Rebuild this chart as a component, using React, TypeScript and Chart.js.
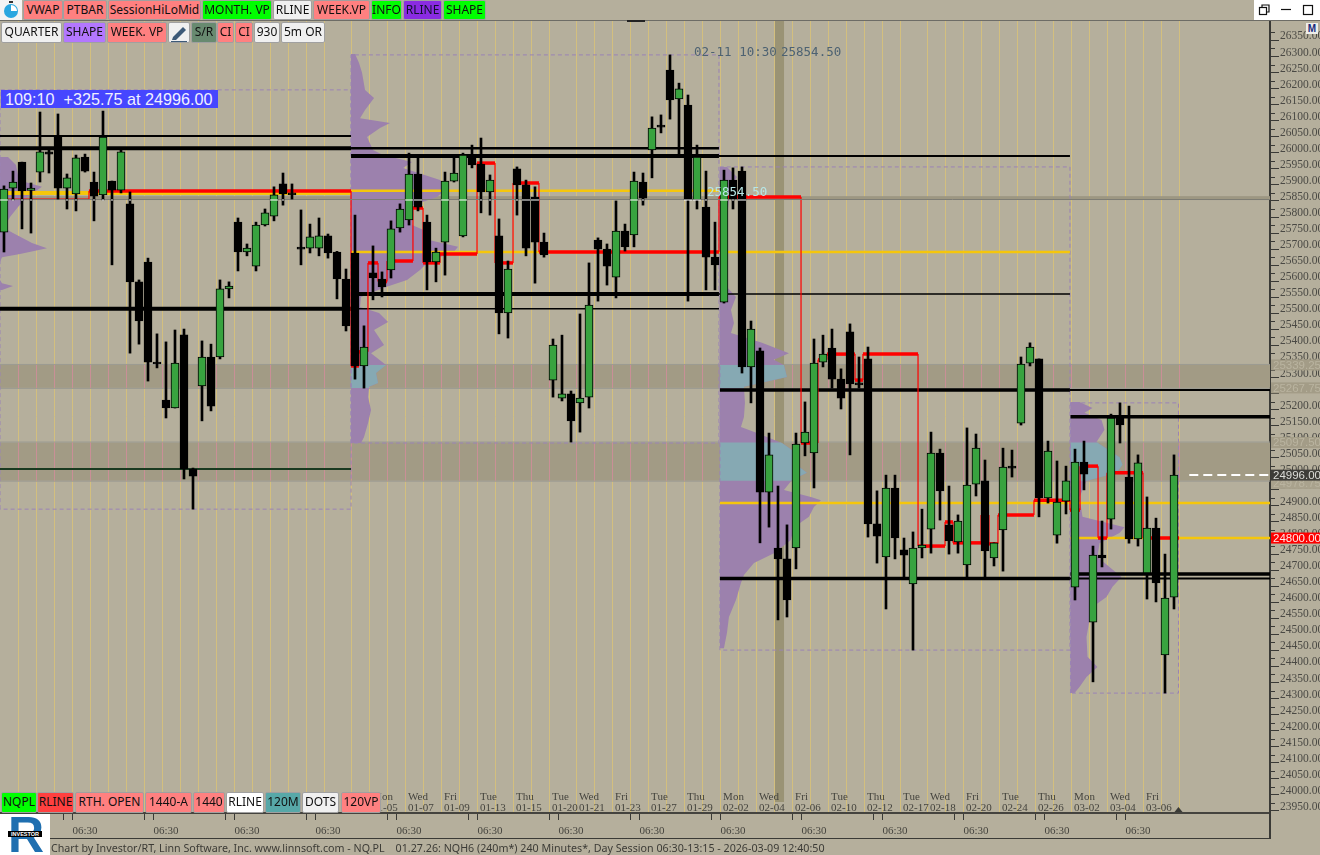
import React, { useEffect, useRef } from "react";
import { Chart, registerables } from "chart.js";

Chart.register(...registerables);

const opens = [25753,25890,25971,25883,25940,26003,26052,25890,25872,25987,25909,25869,25912,25884,25841,25598,25660,25346,25230,25205,25433,25015,25274,25364,25364,25576,25784,25691,25647,25775,25803,25903,25872,25703,25703,25703,25741,25691,25607,25688,25336,25626,25607,25635,25766,25791,25934,25784,25660,25722,25912,25741,25993,25965,25878,25741,25501,25950,25900,25862,25722,25292,25236,25249,25221,25239,25728,25700,25613,25756,25744,25909,26009,26084,26258,26168,26149,25853,25831,25675,25535,25915,25943,25333,25383,24943,24769,24735,24769,25096,25065,25348,25392,25295,25442,25280,25358,24844,24741,24956,24763,24657,24769,24828,25065,24841,24788,24716,24968,24978,24738,24825,25021,25158,25345,25358,24925,24809,24915,24647,25037,24538,24747,24859,25177,24990,24797,24691,24831,24436,24616];
const closes = [25887,25909,25881,25890,26003,25996,25890,25922,25984,25943,25865,26049,25884,26003,25598,25476,25348,25342,25205,25345,25015,24993,25364,25211,25576,25585,25691,25703,25775,25813,25869,25872,25869,25700,25738,25741,25688,25607,25461,25336,25395,25610,25582,25763,25825,25934,25831,25660,25691,25912,25937,25993,25962,25878,25915,25501,25638,25900,25703,25722,25682,25401,25249,25165,25236,25526,25700,25647,25756,25707,25912,25859,26077,26080,26165,26199,25853,25987,25675,25651,25915,25856,25333,25451,24943,25059,24735,24607,25093,25130,25345,25373,25295,25236,25280,25277,24844,24806,24956,24800,24747,24769,24778,25065,24947,24791,24853,24965,25080,24760,24785,25021,25018,25342,25395,24925,25071,24912,24978,25037,24999,24747,24738,25174,25152,24797,25034,24831,24660,24613,24996];
const highs = [25897,25943,25971,25906,26127,26009,26121,25934,25993,25996,25940,26130,25912,26009,25878,25604,25672,25436,25411,25448,25451,25018,25414,25404,25604,25598,25797,25716,25784,25825,25894,25937,25903,25822,25778,25797,25747,25693,25638,25806,25461,25710,25629,25788,25841,25999,25987,25806,25703,25940,25987,25999,26024,26046,25931,25794,25663,25956,25915,25894,25750,25420,25432,25258,25498,25657,25735,25716,25850,25778,25940,25937,26112,26118,26305,26217,26180,26024,25943,25784,25946,25953,25956,25476,25392,25127,24962,24841,25127,25224,25420,25432,25451,25327,25467,25364,25395,24947,24996,24996,24800,24819,24890,25130,25077,24962,24872,25143,25124,25043,24785,25080,25074,25364,25408,25358,25102,25040,25024,25077,25102,24775,24853,25186,25221,25211,25059,24928,24862,24750,25059];
const lows = [25691,25853,25763,25750,25909,25937,25856,25825,25819,25940,25788,25853,25651,25875,25376,25404,25289,25330,25174,25205,24984,24890,25165,25196,25358,25548,25632,25679,25632,25772,25788,25837,25856,25651,25688,25679,25672,25545,25445,25295,25267,25542,25551,25610,25753,25775,25819,25573,25598,25619,25909,25738,25953,25813,25806,25436,25423,25806,25679,25594,25675,25239,25227,25099,25130,25205,25538,25588,25548,25694,25707,25837,25922,26062,26105,25993,25538,25825,25573,25573,25532,25825,25314,25221,24785,24834,24545,24554,24704,25056,24956,25333,25267,25202,25059,25267,24803,24722,24579,24735,24676,24451,24738,24753,24856,24750,24753,24676,24931,24679,24713,24697,24990,25152,25336,24866,24909,24784,24875,24607,24950,24352,24710,24828,25096,24784,24775,24610,24601,24317,24579];

// session start positions, in bar units
const X_MIN = -0.444;
const X_MAX = 140.667;
const S1 = 38.56;
const S2 = 79.44;
const S2b = 79.55;
const S3 = 118.44;
const S3b = 118.5;
const S4 = 130.5;

const dayRuns = [[1.6, 35.6], [38.6, 60.6], [63.6, 99.6], [102.6, 130.6]];
const dateDays = ["Mon","Wed","Fri","Tue","Thu","Tue","Wed","Fri","Tue","Thu","Mon","Wed","Fri","Tue","Thu","Tue","Wed","Fri","Tue","Thu","Mon","Wed","Fri"];
const dateText = ["01-05","01-07","01-09","01-13","01-15","01-20","01-21","01-23","01-27","01-29","02-02","02-04","02-06","02-10","02-12","02-17","02-18","02-20","02-24","02-26","03-02","03-04","03-06"];
const dateAt = [40.9,44.9,48.9,52.9,56.9,60.9,63.9,67.9,71.9,75.9,79.9,83.9,87.9,91.9,95.9,99.9,102.9,106.9,110.9,114.9,118.9,122.9,126.9];

const profileAPrices = [25987,25962,25931,25909,25894,25862,25831,25800,25766,25750,25719,25703,25685,25675,25660,25604,25594,25585,25573];
const profileAVols = [8,16,18,25,42,27,18,10,4,13,32,47,20,2,0,0,2,13,2];
const profileBPrices = [26308,26280,26249,26196,26171,26133,26108,26093,26077,26049,26009,25993,25971,25953,25915,25890,25862,25837,25800,25775,25760,25728,25707,25688,25666,25635,25604,25579,25551,25520,25501,25473,25448,25401,25376,25339,25314,25283,25271,25239,25199,25158,25115,25096];
const profileBVols = [4,8,11,14,23,14,9,39,29,16,22,32,61,52,89,96,86,62,61,61,72,79,107,102,79,69,56,32,10,9,28,37,23,33,20,35,25,27,18,17,20,17,13,10];
const profileCPrices = [25956,25925,25884,25822,25697,25619,25582,25551,25510,25470,25439,25408,25376,25355,25339,25302,25271,25221,25177,25146,25127,25096,25074,25034,25003,24981,24950,24928,24918,24897,24866,24834,24794,24753,24722,24685,24660,24607,24554,24504,24457];
const profileCVols = [7,17,10,8,6,6,7,16,11,14,11,42,69,54,64,67,24,25,24,21,37,62,72,74,87,72,64,91,101,94,89,74,71,54,34,24,21,16,9,7,4];
const profileDPrices = [25224,25205,25190,25168,25137,25099,25052,25028,25003,24978,24928,24866,24834,24816,24784,24741,24679,24648,24616,24585,24545,24492,24430,24398,24367,24336,24317];
const profileDVols = [9,22,14,31,34,26,49,52,46,16,9,12,54,49,29,27,51,42,36,22,19,16,17,27,16,9,4];

const zoneHigh = [25339.25, 25097.5];
const zoneLow = [25267.75, 24978.75];

const blackLevels: number[][] = [
  [26052, X_MIN, S1, 2],
  [26014, X_MIN, S1, 4],
  [26014, S1, S2, 2.5],
  [25990, S1, S2, 4],
  [25990, S2, S3, 2],
  [25560, S1, S2, 4],
  [25560, S2, S3, 1.5],
  [25514, X_MIN, S1, 4],
  [25514, S1, S2, 1.5],
  [25261, S2b, S3, 3.5],
  [25261, S3, X_MAX, 2],
  [25178, S3b, X_MAX, 3.5],
  [24674, S2b, S3, 3.5],
  [24674, S3, X_MAX, 2],
  [24688, S3b, X_MAX, 3.5],
];
const darkGreenLevels: number[][] = [[25015, X_MIN, S1, 2]];
const yellowLevels: number[][] = [
  [25875, X_MIN, S1, 4],
  [25882, S1, S2, 2.5],
  [25691, S1, S3, 2.5],
  [24909, S2b, X_MAX, 2.5],
  [24800, S3b, X_MAX, 2.5],
];
const boxes: number[][] = [
  [X_MIN, S1, 26196, 24890],
  [S1, S2, 26305, 25096],
  [S2b, S3, 25956, 24451],
  [S3b, S4, 25221, 24317],
];

const rlineAt = [9.44,38.56,39.44,40.44,41.56,42.56,45.44,46.56,48.44,52.56,54.56,56.56,59.44,79.44,88.56,90.44,91.44,94.56,95.44,101.56,104.56,105.44,108.56,109.44,110.44,114.44,118.44,119.56,121.56,122.56,126.56];
const rlinePrice = [25881,25336,25380,25657,25599,25663,25828,25657,25685,25968,25657,25906,25691,25862,25096,25355,25373,25292,25373,24775,24850,24785,24872,24782,24872,24918,24887,25024,24800,25003,24800];
const rlineEnd = 130.56;
const rlineLowPrice = 25856;
const rlineLowEnd = 9.44;

const crosshairPrice = 25854.5;
const crosshairBandHigh = 25865;
const crosshairBandLow = 25855;
const crosshairBar = 86.17;
const lastPrice = 24996;

const axisTags = [
  { at: 25339.25, text: "25339.25", bg: "#a39c87", fg: "#bab4a0" },
  { at: 25267.75, text: "25267.75", bg: "#a39c87", fg: "#bab4a0" },
  { at: 25097.5, text: "25097.50", bg: "#a39c87", fg: "#bab4a0" },
  { at: 24970, text: "24978.75", bg: "#a9a28d", fg: "#bab4a0" },
  { at: 24996, text: "24996.00", bg: "#3d3c38", fg: "#dcdcd8" },
  { at: 24800, text: "24800.00", bg: "#ff0000", fg: "#ffe8e8" },
];

const row1 = [
  ["VWAP", 23, 40, "#ff8080"], ["PTBAR", 63, 44, "#ff8080"], ["SessionHiLoMid", 108, 93, "#ff8080"],
  ["MONTH. VP", 202, 70, "#00ff00"], ["RLINE", 273, 39, "#f0f0f0"], ["WEEK.VP", 313, 57, "#ff8080"],
  ["INFO", 371, 31, "#00ff00"], ["RLINE", 403, 39, "#8a2be2"], ["SHAPE", 443, 43, "#00ff00"],
];
const row2 = [
  ["QUARTER", 1, 61, "#f0f0f0"], ["SHAPE", 63, 43, "#b377ff"], ["WEEK. VP", 107, 60, "#ff8080"],
  ["S/R", 191, 26, "#688a70"], ["CI", 217, 17, "#ff8080"], ["CI", 235, 18, "#ff8080"],
  ["930", 254, 26, "#f0f0f0"], ["5m OR", 281, 44, "#f0f0f0"],
];
const row3 = [
  ["NQPL", 1, 36, "#00ff00"], ["RLINE", 37, 37, "#ff4040"], ["RTH. OPEN", 75, 69, "#ff8080"],
  ["1440-A", 145, 47, "#ff8080"], ["1440", 193, 32, "#ff8080"], ["RLINE", 226, 38, "#ffffff"],
  ["120M", 265, 36, "#57a8a8"], ["DOTS", 302, 37, "#f0f0f0"], ["120VP", 341, 40, "#ff8080"],
];

const BG = "#b5af9c";
const ZONE = "#a29b85";
const GRID = "#d3bf7e";
const PINK = "#c98f96";
const PURPLE = "#9c81ad";
const TEAL = "#86a9b3";
const VOL_UNIT = 1 / 9;
const numFont = "'Liberation Sans Narrow','Liberation Sans',sans-serif";

function polygon(prices: number[], vols: number[], base: number) {
  const pts = [{ x: base, y: prices[0] }];
  prices.forEach((p, i) => pts.push({ x: base + vols[i] * VOL_UNIT, y: p }));
  pts.push({ x: base, y: prices[prices.length - 1] });
  return pts;
}
function volAt(prices: number[], vols: number[], p: number) {
  for (let i = 0; i < prices.length - 1; i++) {
    if (prices[i] >= p && prices[i + 1] <= p) {
      const t = (prices[i] - p) / (prices[i] - prices[i + 1]);
      return vols[i] + (vols[i + 1] - vols[i]) * t;
    }
  }
  return 0;
}
function slice(prices: number[], vols: number[], base: number, hi: number, lo: number) {
  const pts = [{ x: base, y: hi }, { x: base + volAt(prices, vols, hi) * VOL_UNIT, y: hi }];
  prices.forEach((p, i) => { if (p < hi && p > lo) pts.push({ x: base + vols[i] * VOL_UNIT, y: p }); });
  pts.push({ x: base + volAt(prices, vols, lo) * VOL_UNIT, y: lo }, { x: base, y: lo });
  return pts;
}
function shape(data: any[], color: string, order: number) {
  return { type: "line", data, fill: "shape", backgroundColor: color, borderWidth: 0, borderColor: color, pointRadius: 0, tension: 0, order };
}
function level(l: number[], color: string, order: number) {
  return { type: "line", data: [{ x: l[1], y: l[0] }, { x: l[2], y: l[0] }], borderColor: color, borderWidth: l[3], pointRadius: 0, order };
}
function box(b: number[]) {
  const [x0, x1, hi, lo] = b;
  return {
    type: "line",
    data: [{ x: x0, y: lo }, { x: x0, y: hi }, { x: x1, y: hi }, { x: x1, y: lo }, { x: x0, y: lo }],
    borderColor: "#9a83b5", borderWidth: 1, borderDash: [4, 3], pointRadius: 0, order: 6,
  };
}

function dayGrid() {
  const out: { value: number }[] = [];
  dayRuns.forEach(([a, b]) => { for (let v = a; v <= b + 0.01; v += 2) out.push({ value: v }); });
  return out;
}

const decor = {
  id: "decor",
  beforeDatasetsDraw(chart: any) {
    const { ctx, chartArea: a, scales } = chart;
    const y = scales.y, x = scales.x;
    ctx.save();
    zoneHigh.forEach((hi, i) => {
      const t = y.getPixelForValue(hi), b = y.getPixelForValue(zoneLow[i]);
      ctx.fillStyle = ZONE;
      ctx.fillRect(a.left, t, a.right - a.left, b - t);
      ctx.fillStyle = "#9b9a92";
      ctx.fillRect(a.left, t - 1, a.right - a.left, 1);
      ctx.fillRect(a.left, b, a.right - a.left, 1);
      ctx.fillStyle = PINK;
      dayGrid().forEach((g) => {
        const px = Math.round(x.getPixelForValue(g.value));
        ctx.fillRect(px, t, 1, b - t);
      });
    });
    const ct = y.getPixelForValue(crosshairBandHigh), cb = y.getPixelForValue(crosshairBandLow);
    ctx.fillStyle = "#9d9782";
    ctx.fillRect(a.left, ct, a.right - a.left, cb - ct);
    const cx = x.getPixelForValue(crosshairBar);
    ctx.fillStyle = "#9a9375";
    ctx.fillRect(cx - 4.5, a.top, 9, 802 - a.top);
    ctx.restore();
  },
  afterDatasetsDraw(chart: any) {
    const { ctx, scales } = chart;
    const x = scales.x, y = scales.y;
    ctx.save();
    // the crosshair line inverts to white where it passes over a bar
    const cy = Math.round(y.getPixelForValue(crosshairPrice));
    ctx.fillStyle = "#ffffff";
    opens.forEach((o, i) => {
      if (lows[i] > crosshairPrice || highs[i] < crosshairPrice) return;
      const inBody = Math.min(o, closes[i]) <= crosshairPrice && Math.max(o, closes[i]) >= crosshairPrice;
      const w = inBody ? 8 : 2;
      ctx.fillRect(x.getPixelForValue(i) - w / 2, cy - 0.5, w, 1);
    });

    ctx.textBaseline = "middle";
    ctx.font = "12.5px 'DejaVu Sans Mono'";
    ctx.fillStyle = "#4d6272";
    ctx.textAlign = "left";
    ctx.fillText("02-11 10:30", 694, 53);
    ctx.fillText("25854.50", 781, 53);
    ctx.fillStyle = "#b7e6e6";
    ctx.fillText("25854.50", 707, 193);

    ctx.font = "11px 'Liberation Sans Narrow'";
    ctx.fillStyle = "#45443e";
    dateAt.forEach((v, i) => {
      const px = x.getPixelForValue(v);
      ctx.fillText(dateDays[i], px, 797);
      ctx.fillText(dateText[i], px, 808);
    });
    ctx.restore();
  },
  afterDraw(chart: any) {
    const { ctx, scales, chartArea: a } = chart;
    const y = scales.y;
    ctx.save();
    ctx.fillStyle = "#3a3a36";
    // half-step axis ticks
    y.ticks.forEach((t: any) => {
      ctx.fillRect(1271, Math.round(y.getPixelForValue(t.value + 25)), 4, 1);
    });
    ctx.fillRect(a.right - 1, 813, 2, 26);
    ctx.fillRect(50, 838, a.right - 49, 1);
    ctx.fillStyle = "#6d6c66";
    ctx.fillRect(0, 20, 1320, 1);
    ctx.fillStyle = "#222";
    ctx.fillRect(627, 20, 18, 2);
    // last-bar marker
    const mx = 1178.5;
    ctx.fillStyle = "#3a3a36";
    ctx.beginPath();
    ctx.moveTo(mx - 4, 812); ctx.lineTo(mx + 4, 812); ctx.lineTo(mx, 807); ctx.fill();

    ctx.font = `11.5px ${numFont}`;
    ctx.textBaseline = "middle";
    ctx.textAlign = "left";
    axisTags.forEach((t) => {
      const py = y.getPixelForValue(t.at);
      ctx.fillStyle = t.bg;
      ctx.fillRect(1271, py - 5.5, 49, 11);
      ctx.fillStyle = t.fg;
      ctx.fillText(t.text, 1273, py + 0.5);
    });
    ctx.restore();
  },
};

const btn = (l: number, t: number, w: number, h: number, bg: string): React.CSSProperties => ({
  position: "absolute", left: l, top: t, width: w, height: h, background: bg, boxSizing: "border-box",
  border: "1px solid #a0a0a0", borderRadius: 2, color: bg === "#8a2be2" ? "#10102a" : "#111",
  font: "12px 'Noto Sans'", lineHeight: `${h - 3}px`, textAlign: "center", whiteSpace: "nowrap", overflow: "hidden",
});

const noPad = (s: any) => { s.paddingLeft = 0; s.paddingRight = 0; };

export default function App() {
  const ref = useRef<HTMLCanvasElement>(null);
  useEffect(() => {
    document.body.style.margin = "0";
    const idx = opens.map((_, i) => i);
    const isUp = (i: number) => closes[i] >= opens[i];
    const wicks = idx.map((i) => ({ x: i, y: [lows[i], highs[i]] }));
    const bodies = idx.map((i) => ({ x: i, y: [Math.min(opens[i], closes[i]), Math.max(opens[i], closes[i])] }));

    const rPts: { x: number; y: number }[] = [];
    rlineAt.forEach((x, i) => {
      rPts.push({ x, y: rlinePrice[i] });
      rPts.push({ x: i + 1 < rlineAt.length ? rlineAt[i + 1] : rlineEnd, y: rlinePrice[i] });
    });

    const profiles = [
      { p: profileAPrices, v: profileAVols, base: X_MIN, zones: [] as number[] },
      { p: profileBPrices, v: profileBVols, base: S1, zones: [0] },
      { p: profileCPrices, v: profileCVols, base: S2b, zones: [0, 1] },
      { p: profileDPrices, v: profileDVols, base: S3b, zones: [1] },
    ];
    const profileSets: any[] = [];
    profiles.forEach((pr) => {
      profileSets.push(shape(polygon(pr.p, pr.v, pr.base), PURPLE, 9));
      pr.zones.forEach((z) => profileSets.push(shape(slice(pr.p, pr.v, pr.base, zoneHigh[z], zoneLow[z]), TEAL, 8)));
    });

    const chart = new Chart(ref.current as HTMLCanvasElement, {
      type: "bar",
      plugins: [decor],
      data: {
        datasets: [
          { type: "line", data: [{ x: X_MIN, y: crosshairPrice }, { x: X_MAX, y: crosshairPrice }], borderColor: "#7d7c74", borderWidth: 1, pointRadius: 0, order: 2 },
          { type: "bar", data: bodies, grouped: false, barThickness: 8, minBarLength: 2, borderWidth: 1, borderColor: "#000", borderSkipped: false,
            backgroundColor: (c: any) => (isUp(c.dataIndex) ? "#38a33f" : "#000"), order: 0 },
          { type: "bar", data: wicks, grouped: false, barThickness: 2, backgroundColor: "#000", borderWidth: 0, order: 1 },
          { type: "line", data: [{ x: X_MIN, y: rlineLowPrice }, { x: rlineLowEnd, y: rlineLowPrice }], borderColor: "#ff0000", borderWidth: 1.2, pointRadius: 0, order: 3 },
          { type: "line", data: [{ x: rlineLowEnd, y: rlineLowPrice }, { x: rlineLowEnd, y: rlinePrice[0] }], borderColor: "#ff0000", borderWidth: 1.2, pointRadius: 0, order: 3 },
          { type: "line", data: rPts, borderColor: "#ff0000", borderWidth: 3, pointRadius: 0, order: 3,
            segment: { borderWidth: (c: any) => (c.p0.parsed.y === c.p1.parsed.y ? 3.5 : 1.2) } },
          ...blackLevels.map((l) => level(l, "#000", 4)),
          ...darkGreenLevels.map((l) => level(l, "#1a3a20", 4)),
          ...yellowLevels.map((l) => level(l, "#f5c60c", 5)),
          { type: "line", data: [{ x: 131.7, y: lastPrice }, { x: X_MAX, y: lastPrice }], borderColor: "#ffffff", borderWidth: 2, borderDash: [9, 5], pointRadius: 0, order: 2 },
          ...boxes.map(box),
          ...profileSets,
        ] as any,
      },
      options: {
        animation: false,
        responsive: false,
        devicePixelRatio: 1,
        layout: { padding: { top: 20, left: 0, right: 0, bottom: 0 }, autoPadding: false },
        plugins: { legend: { display: false }, tooltip: { enabled: false } },
        scales: {
          x: {
            type: "linear", offset: false, min: X_MIN, max: X_MAX, position: "bottom",
            afterFit: (s: any) => { s.height = 42; noPad(s); },
            afterBuildTicks: (s: any) => {
              const t: { value: number }[] = [];
              for (let k = 0; k < 14; k++) { t.push({ value: 6.6 + 9 * k }, { value: 7.6 + 9 * k }); }
              s.ticks = t;
            },
            grid: { offset: false, drawOnChartArea: false, tickLength: 7, tickColor: "#3a3a36" },
            border: { color: "#44433e", width: 2 },
            ticks: {
              autoSkip: false, maxRotation: 0, minRotation: 0, align: "start", padding: 5, color: "#45443e",
              font: { family: "Liberation Sans Narrow", size: 11 },
              callback: (v: any) => (Math.abs(((Number(v) - 7.6) / 9) - Math.round((Number(v) - 7.6) / 9)) < 0.01 ? "06:30" : ""),
            },
          },
          xGrid: {
            type: "linear", offset: false, min: X_MIN, max: X_MAX, position: "bottom",
            afterFit: (s: any) => { s.height = 0; noPad(s); },
            afterBuildTicks: (s: any) => { s.ticks = dayGrid(); },
            grid: { offset: false, color: GRID, lineWidth: 1, drawTicks: false, tickLength: 0 },
            border: { display: false },
            ticks: { display: false },
          },
          y: {
            type: "linear", position: "right", min: 23943.5, max: 26413.7,
            afterFit: (s: any) => { s.width = 50; },
            afterBuildTicks: (s: any) => {
              const t: { value: number }[] = [];
              for (let v = 23950; v <= 26350; v += 50) t.push({ value: v });
              s.ticks = t;
            },
            grid: { drawOnChartArea: false, tickLength: 9, tickColor: "#3a3a36" },
            border: { color: "#3a3a36", width: 2 },
            ticks: {
              autoSkip: false, padding: 1, labelOffset: -4, color: "#4a4944",
              font: { family: "Liberation Sans Narrow", size: 11.5 },
              callback: (v: any) => Number(v).toFixed(2),
            },
          },
        } as any,
      },
    } as any);
    return () => chart.destroy();
  }, []);

  return (
    <div style={{ position: "fixed", left: 0, top: 0, width: 1320, height: 855, background: BG, overflow: "hidden" }}>
      <canvas ref={ref} width={1320} height={855} style={{ position: "absolute", left: 0, top: 0, width: 1320, height: 855, display: "block" }} />
      <div style={{ position: "absolute", left: 0, top: 0, width: 22, height: 20, background: "#f4f4f4" }}>
        <svg width="22" height="20"><circle cx="11" cy="11" r="7" fill="#2aa7e0" /><rect x="9" y="1" width="4" height="2" fill="#333" /><path d="M11 11 L11 5 A6 6 0 0 1 17 11 Z" fill="#fff" /></svg>
      </div>
      {row1.map(([t, l, w, c]: any, i) => <div key={"a" + i} style={btn(l, 0, w, 20, c)}>{t}</div>)}
      {row2.map(([t, l, w, c]: any, i) => <div key={"b" + i} style={btn(l, 22, w, 21, c)}>{t}</div>)}
      <div style={{ ...btn(168, 22, 22, 21, "#f0f0f0") }}>
        <svg width="20" height="19"><path d="M4 14 L14 4 L17 7 L7 17 L3 17 Z" fill="#3d5a78" /><rect x="2" y="18" width="16" height="1" fill="#3d5a78" /></svg>
      </div>
      {row3.map(([t, l, w, c]: any, i) => <div key={"c" + i} style={btn(l, 792, w, 21, c)}>{t}</div>)}

      <div style={{ position: "absolute", left: 1, top: 90, width: 217, height: 18, background: "#4646ff", color: "#f0f0ff", font: "16.2px 'Liberation Sans'", lineHeight: "18px", paddingLeft: 4, boxSizing: "border-box", whiteSpace: "pre" }}>109:10  +325.75 at 24996.00</div>

      <div style={{ position: "absolute", left: 1254, top: 0, width: 66, height: 20, background: "#ffffff" }}>
        <svg width="66" height="20" fill="none" stroke="#111" strokeWidth="1.2">
          <rect x="5.5" y="7.5" width="7" height="7" /><path d="M8 7 V5 H15 V12 H13" />
          <path d="M27 9.5 H37" />
          <rect x="49.5" y="5.5" width="9" height="9" />
        </svg>
      </div>
      <div style={{ position: "absolute", left: 1306, top: 23, width: 12, height: 11, background: "#eeeeea", color: "#1a2a7a", font: "bold 10px 'Liberation Sans'", lineHeight: "11px", textAlign: "center" }}>M</div>

      <div style={{ position: "absolute", left: 0, top: 814, width: 50, height: 41, background: "#ffffff", overflow: "hidden" }}>
        <div style={{ position: "absolute", left: 8, top: -8, color: "#1f6fb0", font: "bold 50px 'Liberation Sans'" }}>R</div>
        <div style={{ position: "absolute", left: 8, top: 17, width: 34, height: 6, background: "#000", color: "#fff", font: "bold 5.5px 'Liberation Sans'", lineHeight: "6px", textAlign: "center" }}>INVESTOR</div>
      </div>
      <div style={{ position: "absolute", left: 51, top: 841, color: "#3c3b36", font: "10.7px 'Noto Sans'", lineHeight: "14px", whiteSpace: "pre" }}>
        Chart by Investor/RT, Linn Software, Inc. www.linnsoft.com - NQ.PL    01.27.26: NQH6 (240m*) 240 Minutes*, Day Session 06:30-13:15 - 2026-03-09 12:40:50
      </div>
    </div>
  );
}
